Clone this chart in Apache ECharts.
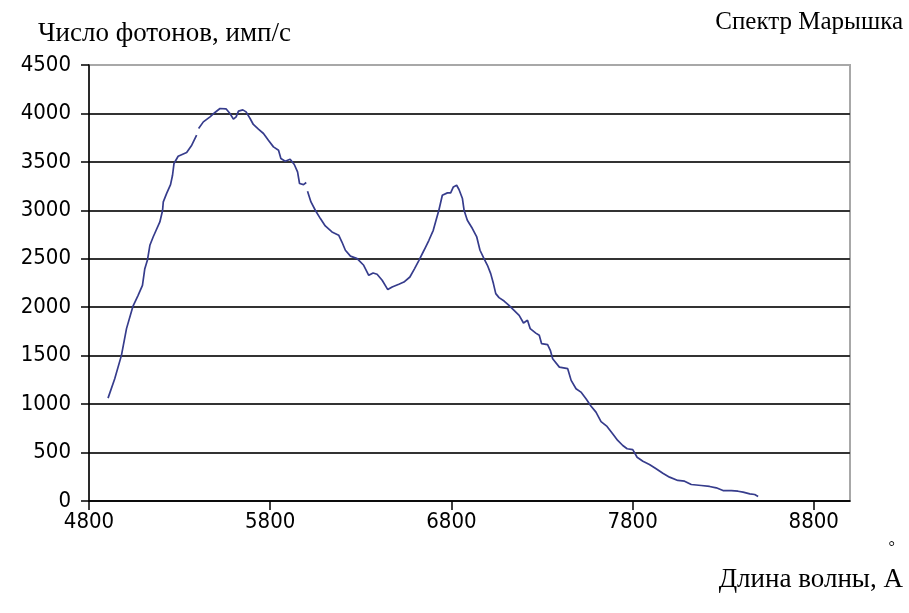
<!DOCTYPE html>
<html>
<head>
<meta charset="utf-8">
<script src="https://cdn.jsdelivr.net/npm/echarts@6/dist/echarts.min.js"></script>
<style>
html,body{margin:0;padding:0;background:#fff;}
#chart{width:909px;height:613px;}
</style>
</head>
<body>
<div id="chart"></div>
<script>
// Wavelength (Å) and photon count (imp/s); null marks a break in the trace
const wavelengths = [4905,4942,4979,5007,5043,5071,5095,5108,5123,5136,5154,5191,5206,5210,5228,5250,5261,5269,5292,5339,5367,5394,5399,5405,5431,5468,5495,5523,5556,5578,5597,5612,5625,5649,5667,5689,5707,5735,5763,5790,5818,5846,5859,5883,5910,5933,5951,5962,5984,5999,6003,6006,6025,6049,6077,6104,6141,6178,6196,6215,6243,6280,6316,6344,6368,6390,6418,6449,6473,6510,6538,6571,6597,6621,6649,6676,6700,6718,6731,6750,6778,6796,6811,6829,6842,6861,6870,6888,6916,6940,6958,6980,6999,7017,7032,7045,7063,7091,7118,7146,7174,7198,7220,7235,7266,7285,7298,7331,7346,7359,7396,7442,7461,7488,7515,7543,7570,7598,7626,7659,7690,7718,7746,7770,7801,7825,7857,7893,7930,7967,8004,8050,8087,8124,8179,8225,8262,8299,8345,8382,8410,8447,8474,8493];
const counts = [1062,1262,1503,1779,2012,2123,2226,2398,2491,2639,2725,2880,2998,3087,3173,3266,3362,3483,3558,3597,3672,3776,null,3845,3913,3965,4010,4051,4048,4000,3941,3965,4024,4037,4016,3948,3886,3838,3793,3724,3655,3621,3535,3507,3528,3473,3397,3277,3266,3287,null,3197,3087,3001,2915,2839,2777,2743,2673,2588,2527,2502,2433,2329,2353,2340,2278,2182,2209,2237,2260,2312,2399,2484,2588,2691,2794,2915,3001,3156,3180,3180,3242,3259,3215,3122,3001,2898,2812,2725,2588,2502,2433,2347,2244,2140,2099,2064,2020,1968,1916,1837,1865,1779,1733,1710,1624,1614,1555,1469,1382,1366,1245,1159,1124,1056,980,917,820,770,694,625,573,539,530,452,411,377,333,287,246,212,205,170,160,150,136,108,108,101,91,74,67,46];
const xTicks = [4800,5800,6800,7800,8800];
const yTitle = 'Число фотонов, имп/с';
const chartTitle = 'Спектр Марышка';
const xTitle = 'Длина волны, A';

const seriesData = wavelengths.map((w, i) => [w, counts[i] === null ? '-' : counts[i]]);

const splitColors = ['#333','#333','#333','#333','#333','#333','#333','#333','#333','#a8a8a8'];
const plain = v => String(v);

const chart = echarts.init(document.getElementById('chart'), null, {renderer: 'canvas'});
chart.setOption({
  animation: false,
  backgroundColor: '#ffffff',
  grid: {left: 89, right: 59, top: 65, bottom: 112, show: true, borderColor: '#a8a8a8', borderWidth: 2, backgroundColor: 'transparent'},
  xAxis: {
    type: 'value', min: 4800, max: 9000,
    axisLine: {show: true, onZero: false, lineStyle: {color: '#000', width: 1.5}},
    axisTick: {show: true, length: 9, inside: false, customValues: xTicks, lineStyle: {color: '#000', width: 1.5}},
    axisLabel: {customValues: xTicks, formatter: plain, margin: 10, color: '#000', fontFamily: 'DejaVu Sans Condensed', fontSize: 22},
    splitLine: {show: false}
  },
  yAxis: {
    type: 'value', min: 0, max: 4500, interval: 500,
    axisLine: {show: true, lineStyle: {color: '#000', width: 1.5}},
    axisTick: {show: true, length: 8, inside: false, lineStyle: {color: '#000', width: 1.5}},
    axisLabel: {formatter: plain, margin: 18, color: '#000', fontFamily: 'DejaVu Sans Condensed', fontSize: 22},
    splitLine: {show: true, lineStyle: {color: splitColors, width: 2}}
  },
  series: [{
    type: 'line', data: seriesData, showSymbol: false, symbol: 'none', smooth: false, connectNulls: false,
    lineStyle: {color: '#363c8c', width: 1.7}
  }],
  graphic: [
    {type: 'text', left: 38, top: 20, style: {text: yTitle, font: '27px "Liberation Serif"', fill: '#000'}},
    {type: 'text', right: 6, top: 10, style: {text: chartTitle, font: '25px "Liberation Serif"', fill: '#000'}},
    {type: 'text', right: 6, top: 566, style: {text: xTitle, font: '27px "Liberation Serif"', fill: '#000'}},
    {type: 'text', right: 14, top: 540, style: {text: '°', font: '16px "Liberation Serif"', fill: '#000'}}
  ]
});
</script>
</body>
</html>
